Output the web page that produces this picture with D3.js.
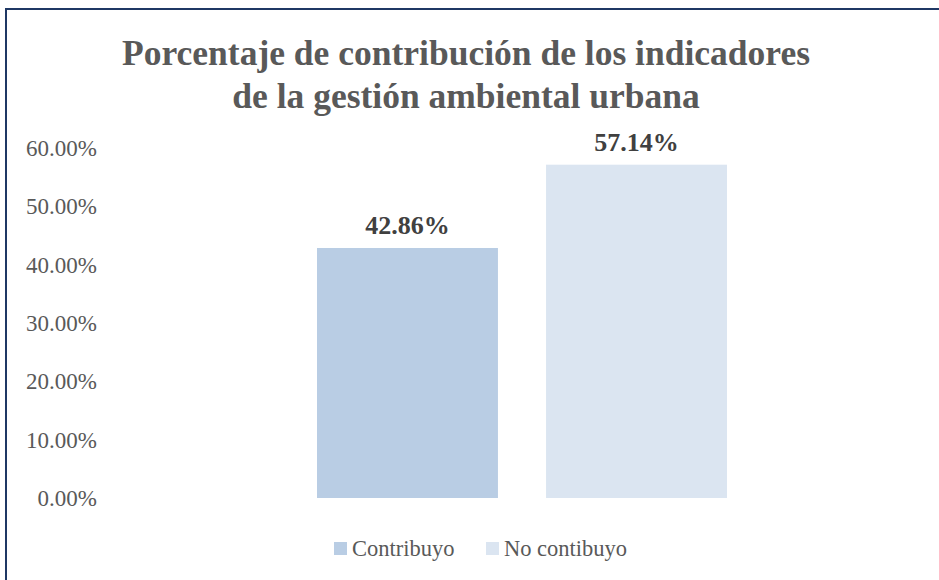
<!DOCTYPE html>
<html>
<head>
<meta charset="utf-8">
<script src="https://cdn.jsdelivr.net/npm/d3@7"></script>
<style>
  body { margin: 0; background: #fff; }
  text { font-family: "Liberation Serif", "Times New Roman", serif; }
</style>
</head>
<body>
<svg id="chart" width="939" height="580"></svg>
<script>
// data
const series = ["Contribuyo", "No contibuyo"];
const values = [42.86, 57.14];
const colors = ["#b9cde4", "#dbe5f1"];
const yTicks = [0, 10, 20, 30, 40, 50, 60];
const titleLines = ["Porcentaje de contribución de los indicadores", "de la gestión ambiental urbana"];

const svg = d3.select("#chart");

// frame
svg.append("rect")
  .attr("x", 6).attr("y", 9)
  .attr("width", 945).attr("height", 590)
  .attr("fill", "#fff")
  .attr("stroke", "#1f3864")
  .attr("stroke-width", 2);

// title
svg.append("text")
  .attr("x", 466).attr("y", 65)
  .attr("text-anchor", "middle")
  .attr("font-weight", "bold")
  .attr("font-size", 35.5)
  .attr("fill", "#595959")
  .selectAll("tspan")
  .data(titleLines)
  .enter().append("tspan")
  .attr("x", 466)
  .attr("dy", (d, i) => i === 0 ? 0 : 43)
  .text(d => d);

const y = d3.scaleLinear().domain([0, 60]).range([498, 148]);
const x = d3.scaleBand().domain(series).range([317, 727]).paddingInner(0.21).paddingOuter(0);

// y axis labels
const yAxis = d3.axisLeft(y).tickValues(yTicks).tickSize(0).tickPadding(0)
  .tickFormat(d => d.toFixed(2) + "%");
svg.append("g")
  .attr("transform", "translate(97,0)")
  .call(yAxis)
  .call(g => g.select(".domain").remove())
  .call(g => g.selectAll("text")
    .attr("font-family", "Liberation Serif")
    .attr("font-size", 23)
    .attr("fill", "#595959"));

// bars
svg.selectAll(".bar")
  .data(values)
  .enter().append("rect")
  .attr("class", "bar")
  .attr("x", (d, i) => x(series[i]))
  .attr("y", d => y(d))
  .attr("width", x.bandwidth())
  .attr("height", d => y(0) - y(d))
  .attr("fill", (d, i) => colors[i]);

// data labels
svg.selectAll(".lbl")
  .data(values)
  .enter().append("text")
  .attr("class", "lbl")
  .attr("x", (d, i) => x(series[i]) + x.bandwidth() / 2)
  .attr("y", d => y(d) - 14)
  .attr("text-anchor", "middle")
  .attr("font-weight", "bold")
  .attr("font-size", 26)
  .attr("fill", "#404040")
  .text(d => d.toFixed(2) + "%");

// legend
const legendX = [334, 486];
const lg = svg.selectAll(".leg")
  .data(series)
  .enter().append("g")
  .attr("class", "leg")
  .attr("transform", (d, i) => `translate(${legendX[i]},542)`);
lg.append("rect")
  .attr("width", 13).attr("height", 13)
  .attr("fill", (d, i) => colors[i]);
lg.append("text")
  .attr("x", 18).attr("y", 14)
  .attr("font-size", 22.5)
  .attr("fill", "#595959")
  .text(d => d);
</script>
</body>
</html>
